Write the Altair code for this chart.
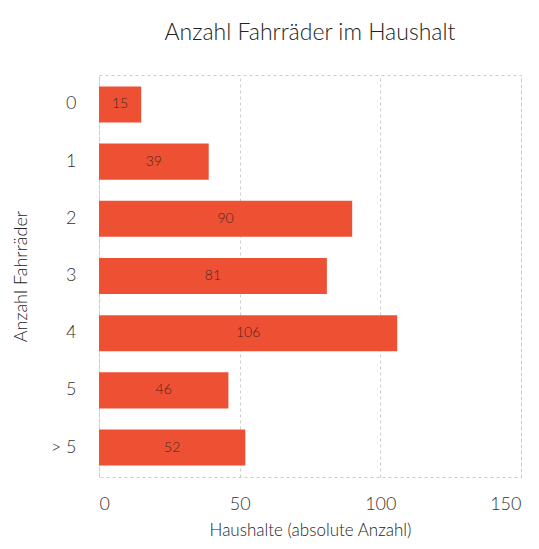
import altair as alt
import pandas as pd

categories = ["0", "1", "2", "3", "4", "5", "> 5"]
values = [15, 39, 90, 81, 106, 46, 52]

df = pd.DataFrame({"cat": categories, "val": values})

FONT = "Lato"
COLOR = "#ee5034"

xscale = alt.Scale(domain=[0, 150], nice=False)

base = alt.Chart(df)

bars = base.mark_bar(color=COLOR).encode(
    y=alt.Y("cat:N", sort=categories, title="Anzahl Fahrräder",
            scale=alt.Scale(paddingInner=0.37, paddingOuter=0.2),
            axis=alt.Axis(ticks=False, domain=False, labelPadding=23,
                          labelFontSize=18, labelFont=FONT, labelColor="#333",
                          labelFontWeight=300,
                          titleFontSize=18, titleFont=FONT, titleColor="#222",
                          titleFontWeight=300, titlePadding=20)),
    x=alt.X("val:Q", title="Haushalte (absolute Anzahl)",
            scale=xscale,
            axis=alt.Axis(values=[0, 50, 100, 150], ticks=False, domain=False,
                          grid=True, gridDash=[3, 3], gridColor="#cccccc",
                          labelPadding=18, labelFontSize=18, labelFont=FONT,
                          labelFontWeight=300,
                          labelColor="#333", titleFontSize=17, titleFont=FONT,
                          titleColor="#222", titleFontWeight=300,
                          titlePadding=9)),
)

labels = base.transform_calculate(mid="datum.val / 2").mark_text(
    font=FONT, fontSize=14, color="#4a2820", fontWeight=300
).encode(
    y=alt.Y("cat:N", sort=categories),
    x=alt.X("mid:Q", scale=xscale),
    text=alt.Text("val:Q"),
)

chart = (bars + labels).properties(
    width=422,
    height=402,
    title=alt.Title("Anzahl Fahrräder im Haushalt", fontSize=23, font=FONT,
                    fontWeight=300, color="#222", offset=30),
    autosize=alt.AutoSizeParams(type="none"),
    padding={"left": 91, "top": 67, "right": 10, "bottom": 64},
).configure_view(stroke="#cccccc", strokeDash=[3, 3])

chart.save("out.html", embed_options={"renderer": "svg", "actions": False})
